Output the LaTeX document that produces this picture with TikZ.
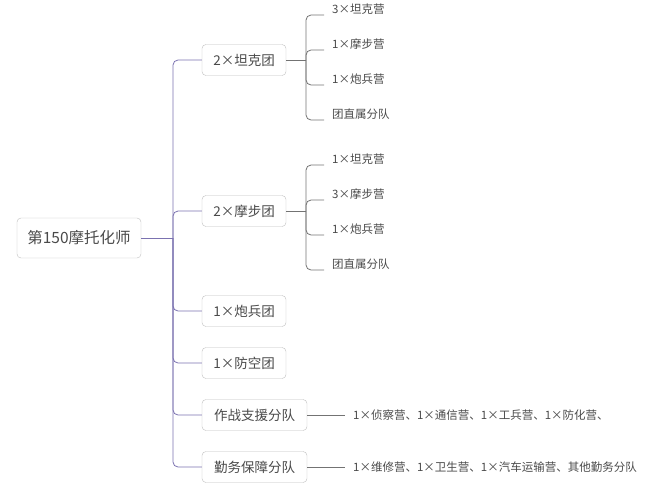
\documentclass[tikz,border=0pt]{standalone}
\usepackage{fontspec}
\setmainfont{Noto Sans CJK SC}
\definecolor{trk}{HTML}{7B72B0}
\definecolor{txt}{HTML}{4A4A4A}
\begin{document}
\begin{tikzpicture}[x=1pt,y=-1pt,
 box/.style={draw=black!25,rounded corners=4pt,fill=white,inner sep=0pt,font=\fontsize{13.5pt}{15pt}\selectfont,text=txt,minimum height=31pt},
 leaf/.style={anchor=west,inner sep=0pt,font=\fontsize{11.5pt}{13pt}\selectfont,text=txt},
 trunk/.style={draw=trk,line width=0.8pt,rounded corners=5pt},
 br/.style={draw=black!55,line width=0.8pt,rounded corners=5pt}]
\useasboundingbox (0,0) rectangle (660,485);
\node[box,minimum width=124pt,minimum height=40pt,font=\fontsize{15.5pt}{17pt}\selectfont] (root) at (79,238) {第150摩托化师};
\node[box,minimum width=84pt] (t) at (244,60) {2×坦克团};
\node[box,minimum width=84pt] (m) at (244,211) {2×摩步团};
\node[box,minimum width=84pt] (p) at (244,311) {1×炮兵团};
\node[box,minimum width=84pt] (f) at (244,363) {1×防空团};
\node[box,minimum width=105pt] (z) at (254.5,415) {作战支援分队};
\node[box,minimum width=105pt] (q) at (254.5,467) {勤务保障分队};
\coordinate (j) at (173,238);
\draw[trunk] (root.east) -- (j);
\foreach \n in {t,m,p,f,z,q} \draw[trunk] (j) |- (\n.west);
\node[leaf] (t1) at (332,9) {3×坦克营};
\node[leaf] (t2) at (332,44) {1×摩步营};
\node[leaf] (t3) at (332,79) {1×炮兵营};
\node[leaf] (t4) at (332,114) {团直属分队};
\node[leaf] (m1) at (332,159) {1×坦克营};
\node[leaf] (m2) at (332,194) {3×摩步营};
\node[leaf] (m3) at (332,229) {1×炮兵营};
\node[leaf] (m4) at (332,264) {团直属分队};
\coordinate (tj) at (306,60);
\coordinate (mj) at (306,211);
\draw[br] (t.east) -- (tj);
\draw[br] (m.east) -- (mj);
\foreach \n in {t1,t2,t3,t4} \draw[br] (tj) |- ([xshift=-8pt,yshift=-6pt]\n.west);
\foreach \n in {m1,m2,m3,m4} \draw[br] (mj) |- ([xshift=-8pt,yshift=-6pt]\n.west);
\node[leaf] (z1) at (353,415) {1×侦察营、1×通信营、1×工兵营、1×防化营、};
\node[leaf] (q1) at (353,467) {1×维修营、1×卫生营、1×汽车运输营、其他勤务分队};
\draw[br] (z.east) -- ([xshift=-8pt]z1.west);
\draw[br] (q.east) -- ([xshift=-8pt]q1.west);
\end{tikzpicture}
\end{document}
